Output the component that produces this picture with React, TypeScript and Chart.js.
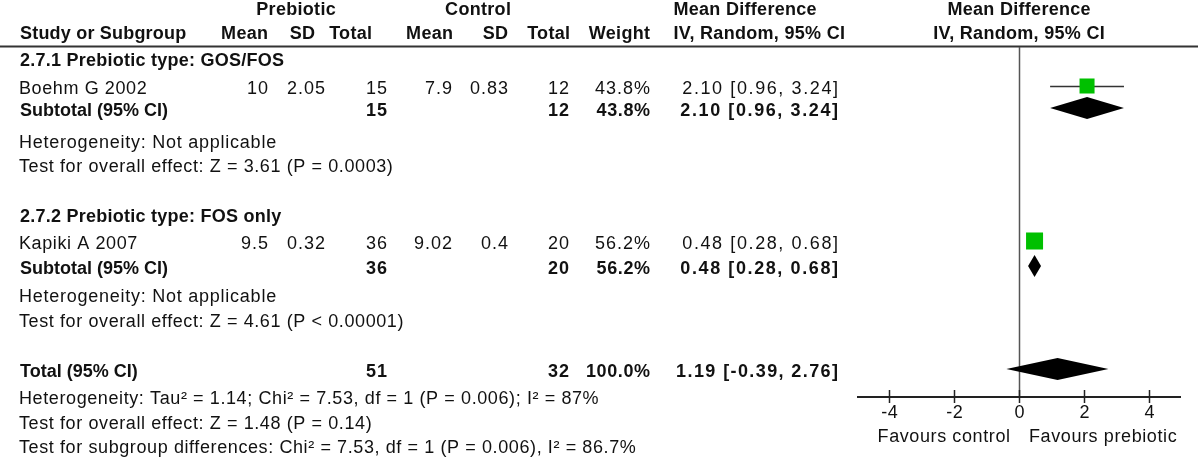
import React, { useEffect, useRef } from "react";
import { Chart, registerables } from "chart.js";

Chart.register(...registerables);

// ---------------- data ----------------
const GROUP_TITLES = ["2.7.1 Prebiotic type: GOS/FOS", "2.7.2 Prebiotic type: FOS only"];
const STUDIES = ["Boehm G 2002", "Kapiki A 2007"];
const PRE_MEAN = ["10", "9.5"];
const PRE_SD = ["2.05", "0.32"];
const PRE_N = [15, 36];
const CON_MEAN = ["7.9", "9.02"];
const CON_SD = ["0.83", "0.4"];
const CON_N = [12, 20];
const WEIGHT = [43.8, 56.2];
const MD = [2.1, 0.48];
const MD_LO = [0.96, 0.28];
const MD_HI = [3.24, 0.68];

const SUB_PRE_N = [15, 36];
const SUB_CON_N = [12, 20];
const SUB_WEIGHT = [43.8, 56.2];
const SUB_MD = [2.1, 0.48];
const SUB_LO = [0.96, 0.28];
const SUB_HI = [3.24, 0.68];

const SUB_HET = ["Heterogeneity: Not applicable", "Heterogeneity: Not applicable"];
const SUB_TEST = [
  "Test for overall effect: Z = 3.61 (P = 0.0003)",
  "Test for overall effect: Z = 4.61 (P < 0.00001)",
];

const TOTAL_PRE_N = 51;
const TOTAL_CON_N = 32;
const TOTAL_WEIGHT = 100.0;
const TOTAL_MD = 1.19;
const TOTAL_LO = -0.39;
const TOTAL_HI = 2.76;
const FOOTNOTES = [
  "Heterogeneity: Tau² = 1.14; Chi² = 7.53, df = 1 (P = 0.006); I² = 87%",
  "Test for overall effect: Z = 1.48 (P = 0.14)",
  "Test for subgroup differences: Chi² = 7.53, df = 1 (P = 0.006), I² = 86.7%",
];

const X_TICKS = [-4, -2, 0, 2, 4];
const X_TICK_LABELS = ["-4", "-2", "0", "2", "4"];
const X_MIN = -5;
const X_MAX = 5;
const FAVOURS = ["Favours control", "Favours prebiotic"];

// ---------------- layout (row positions in y-scale units) ----------------
const ROW_GROUP = [0.44, 6.68];
const ROW_STUDY = [1.56, 7.76];
const ROW_SUB = [2.44, 8.76];
const ROW_HET = [3.72, 9.88];
const ROW_TEST = [4.68, 10.88];
const ROW_TOTAL = 12.88;
const ROW_FOOT = [13.96, 14.96, 15.92];

const COL = {
  left: 19,
  preMean: 268,
  preSD: 325,
  preN: 387,
  conMean: 452,
  conSD: 508,
  conN: 569,
  weight: 650,
  ci: 838,
};

const GREEN = "#00c000";
const FONT = '"Liberation Sans", Arial, Helvetica, sans-serif';

const fmt2 = (v: number) => v.toFixed(2);
const ciText = (m: number, l: number, h: number) => `${fmt2(m)} [${fmt2(l)}, ${fmt2(h)}]`;

function drawText(
  ctx: CanvasRenderingContext2D,
  s: string,
  x: number,
  y: number,
  align: CanvasTextAlign,
  bold: boolean,
  ls: number
) {
  ctx.save();
  ctx.font = `${bold ? "bold " : ""}18px ${FONT}`;
  (ctx as any).letterSpacing = `${ls}px`;
  ctx.textAlign = align;
  ctx.textBaseline = "middle";
  ctx.fillStyle = "#111";
  let xx = x;
  if (align === "right") xx = x + ls;
  else if (align === "center") xx = x + ls / 2;
  ctx.fillText(s, xx, y);
  ctx.restore();
}

const forestPlugin = {
  id: "forest",
  beforeDatasetsDraw(chart: any) {
    const { ctx, scales, chartArea } = chart;
    const xs = scales.x;
    const ys = scales.y;
    ctx.save();
    // header rule
    ctx.strokeStyle = "#333";
    ctx.lineWidth = 2;
    ctx.beginPath();
    ctx.moveTo(0, chartArea.top - 0.5);
    ctx.lineTo(1198, chartArea.top - 0.5);
    ctx.stroke();
    // zero line
    const x0 = Math.round(xs.getPixelForValue(0)) + 0.5;
    ctx.strokeStyle = "#555";
    ctx.lineWidth = 1.5;
    ctx.beginPath();
    ctx.moveTo(x0, chartArea.top);
    ctx.lineTo(x0, chartArea.bottom);
    ctx.stroke();
    // axis
    ctx.strokeStyle = "#222";
    ctx.lineWidth = 2;
    ctx.beginPath();
    ctx.moveTo(xs.getPixelForValue(X_MIN), chartArea.bottom);
    ctx.lineTo(xs.getPixelForValue(X_MAX), chartArea.bottom);
    ctx.stroke();
    ctx.lineWidth = 1.5;
    X_TICKS.forEach((t, i) => {
      const px = Math.round(xs.getPixelForValue(t)) + 0.5;
      ctx.beginPath();
      ctx.moveTo(px, chartArea.bottom - 7);
      ctx.lineTo(px, chartArea.bottom + 6);
      ctx.stroke();
      drawText(ctx, X_TICK_LABELS[i], px, chartArea.bottom + 16, "center", false, 0.4);
    });
    const zx = xs.getPixelForValue(0);
    drawText(ctx, FAVOURS[0], zx - 9, chartArea.bottom + 40, "right", false, 0.6);
    drawText(ctx, FAVOURS[1], zx + 10, chartArea.bottom + 40, "left", false, 0.6);
    // CI whiskers
    ctx.strokeStyle = "#333";
    ctx.lineWidth = 1.3;
    MD.forEach((_, i) => {
      const y = Math.round(ys.getPixelForValue(ROW_STUDY[i])) + 0.5;
      ctx.beginPath();
      ctx.moveTo(xs.getPixelForValue(MD_LO[i]), y);
      ctx.lineTo(xs.getPixelForValue(MD_HI[i]), y);
      ctx.stroke();
    });
    ctx.restore();
  },
  afterDatasetsDraw(chart: any) {
    const { ctx, scales } = chart;
    const xs = scales.x;
    const ys = scales.y;
    const diamond = (lo: number, m: number, hi: number, row: number) => {
      const y = ys.getPixelForValue(row);
      const h = 11;
      ctx.save();
      ctx.fillStyle = "#000";
      ctx.beginPath();
      ctx.moveTo(xs.getPixelForValue(lo), y);
      ctx.lineTo(xs.getPixelForValue(m), y - h);
      ctx.lineTo(xs.getPixelForValue(hi), y);
      ctx.lineTo(xs.getPixelForValue(m), y + h);
      ctx.closePath();
      ctx.fill();
      ctx.restore();
    };
    SUB_MD.forEach((m, i) => diamond(SUB_LO[i], m, SUB_HI[i], ROW_SUB[i]));
    diamond(TOTAL_LO, TOTAL_MD, TOTAL_HI, ROW_TOTAL);

    // ---- table text ----
    const ty = (row: number) => ys.getPixelForValue(row) + 3;
    // headers
    drawText(ctx, "Prebiotic", 296, 10, "center", true, 0.3);
    drawText(ctx, "Control", 478, 10, "center", true, 0.3);
    drawText(ctx, "Mean Difference", 745, 10, "center", true, 0.3);
    drawText(ctx, "Mean Difference", xs.getPixelForValue(0), 10, "center", true, 0.3);
    const hy = 34;
    drawText(ctx, "Study or Subgroup", COL.left + 1, hy, "left", true, 0.2);
    drawText(ctx, "Mean", 268, hy, "right", true, 0.3);
    drawText(ctx, "SD", 315, hy, "right", true, 0.3);
    drawText(ctx, "Total", 372, hy, "right", true, 0.3);
    drawText(ctx, "Mean", 453, hy, "right", true, 0.3);
    drawText(ctx, "SD", 508, hy, "right", true, 0.3);
    drawText(ctx, "Total", 570, hy, "right", true, 0.3);
    drawText(ctx, "Weight", 650, hy, "right", true, 0.3);
    drawText(ctx, "IV, Random, 95% CI", 845, hy, "right", true, 0.3);
    drawText(ctx, "IV, Random, 95% CI", xs.getPixelForValue(0), hy, "center", true, 0.3);

    STUDIES.forEach((name, i) => {
      drawText(ctx, GROUP_TITLES[i], COL.left + 1, ty(ROW_GROUP[i]), "left", true, 0.25);
      const y = ty(ROW_STUDY[i]);
      drawText(ctx, name, COL.left, y, "left", false, 0.6);
      drawText(ctx, PRE_MEAN[i], COL.preMean, y, "right", false, 1.0);
      drawText(ctx, PRE_SD[i], COL.preSD, y, "right", false, 1.0);
      drawText(ctx, String(PRE_N[i]), COL.preN, y, "right", false, 1.0);
      drawText(ctx, CON_MEAN[i], COL.conMean, y, "right", false, 1.0);
      drawText(ctx, CON_SD[i], COL.conSD, y, "right", false, 1.0);
      drawText(ctx, String(CON_N[i]), COL.conN, y, "right", false, 1.0);
      drawText(ctx, `${WEIGHT[i].toFixed(1)}%`, COL.weight, y, "right", false, 1.0);
      drawText(ctx, ciText(MD[i], MD_LO[i], MD_HI[i]), COL.ci, y, "right", false, 1.6);

      const sy = ty(ROW_SUB[i]);
      drawText(ctx, "Subtotal (95% CI)", COL.left + 1, sy, "left", true, 0);
      drawText(ctx, String(SUB_PRE_N[i]), COL.preN, sy, "right", true, 1.0);
      drawText(ctx, String(SUB_CON_N[i]), COL.conN, sy, "right", true, 1.0);
      drawText(ctx, `${SUB_WEIGHT[i].toFixed(1)}%`, COL.weight, sy, "right", true, 0.6);
      drawText(ctx, ciText(SUB_MD[i], SUB_LO[i], SUB_HI[i]), COL.ci, sy, "right", true, 1.6);

      drawText(ctx, SUB_HET[i], COL.left, ty(ROW_HET[i]), "left", false, 0.75);
      drawText(ctx, SUB_TEST[i], COL.left, ty(ROW_TEST[i]), "left", false, 0.6);
    });

    const toty = ty(ROW_TOTAL);
    drawText(ctx, "Total (95% CI)", COL.left + 1, toty, "left", true, 0);
    drawText(ctx, String(TOTAL_PRE_N), COL.preN, toty, "right", true, 1.0);
    drawText(ctx, String(TOTAL_CON_N), COL.conN, toty, "right", true, 1.0);
    drawText(ctx, `${TOTAL_WEIGHT.toFixed(1)}%`, COL.weight, toty, "right", true, 0.6);
    drawText(ctx, ciText(TOTAL_MD, TOTAL_LO, TOTAL_HI), COL.ci, toty, "right", true, 1.4);
    FOOTNOTES.forEach((f, i) => drawText(ctx, f, COL.left, ty(ROW_FOOT[i]), "left", false, 0.6));
  },
};

export default function App() {
  const ref = useRef<HTMLCanvasElement | null>(null);
  useEffect(() => {
    if (!ref.current) return;
    const sideOf = (w: number) => 2.27 * Math.sqrt(w);
    const chart = new Chart(ref.current, {
      type: "scatter",
      data: {
        datasets: [
          {
            label: "Studies",
            data: MD.map((m, i) => ({ x: m, y: ROW_STUDY[i] })),
            pointStyle: "rect",
            pointRadius: WEIGHT.map((w) => sideOf(w) / Math.SQRT2),
            pointHoverRadius: WEIGHT.map((w) => sideOf(w) / Math.SQRT2),
            backgroundColor: GREEN,
            borderColor: GREEN,
            borderWidth: 0,
          },
        ],
      },
      options: {
        animation: false,
        responsive: false,
        maintainAspectRatio: false,
        events: [],
        layout: { padding: { left: 857, right: 19, top: 47, bottom: 66 } },
        scales: {
          x: { type: "linear", min: X_MIN, max: X_MAX, display: false },
          y: { type: "linear", min: 0, max: 14, reverse: true, display: false },
        },
        plugins: {
          legend: { display: false },
          tooltip: { enabled: false },
        },
      },
      plugins: [forestPlugin],
    } as any);
    return () => chart.destroy();
  }, []);
  return (
    <div style={{ position: "absolute", left: 0, top: 0, width: 1200, height: 463, background: "#fff" }}>
      <canvas ref={ref} width={1200} height={463} style={{ display: "block" }} />
    </div>
  );
}
